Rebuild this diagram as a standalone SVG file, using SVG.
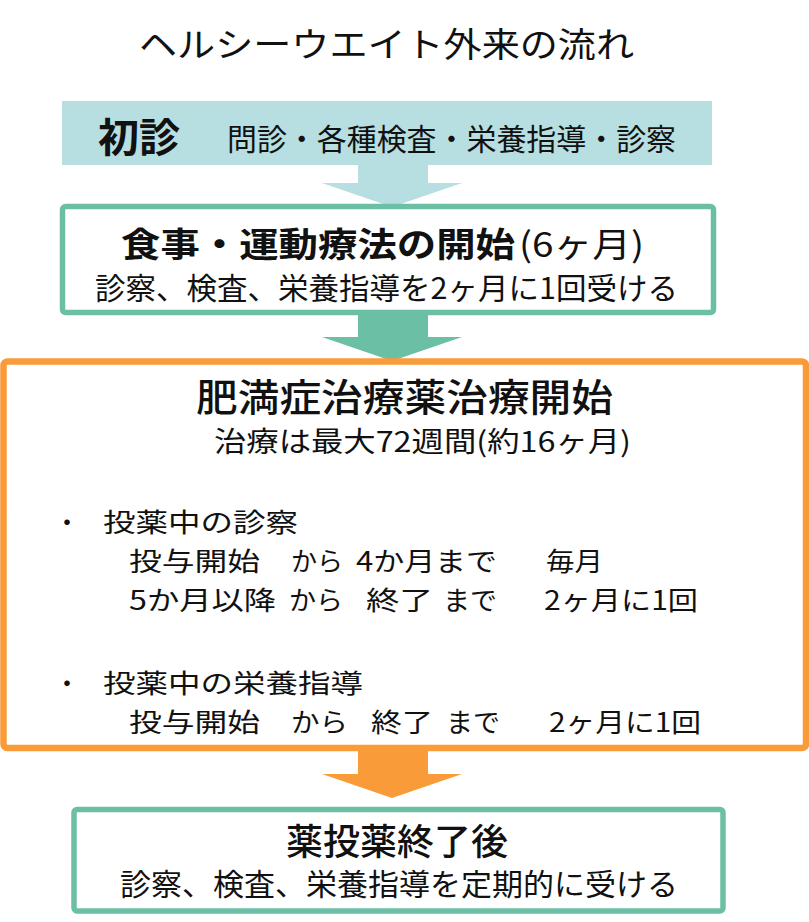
<svg xmlns="http://www.w3.org/2000/svg" width="809" height="922" viewBox="0 0 809 922">
<style>
text{font-family:"Noto Sans CJK JP","Noto Sans",sans-serif;fill:#111;}
.t30{font-size:30px;}
.t27{font-size:26.5px;}
.b{font-weight:bold;}
.m{font-weight:500;}
.box-g{fill:#fff;stroke:#6BBFA5;stroke-width:5.5;}
.box-o{fill:#fff;stroke:#F99B38;stroke-width:6.5;}
</style>
<rect width="809" height="922" fill="#fff"/>
<text id="title" x="139" y="57" font-size="34" textLength="495" lengthAdjust="spacingAndGlyphs">ヘルシーウエイト外来の流れ</text>
<g id="connectors">
<polygon points="358,164 428,164 428,183 462,183 392,207 322,183 358,183" fill="#B7DEE0"/>
<polygon points="358,313 428,313 428,337 462,337 392,361 322,337 358,337" fill="#6BBFA5"/>
<polygon points="358,749 428,749 428,774 462,774 392,798 322,774 358,774" fill="#F99B38"/>
</g>
<g id="node-shoshin">
<rect x="62" y="101" width="650" height="64" fill="#B7DEE0"/>
<text x="98" y="152" font-size="40" class="b" textLength="82" lengthAdjust="spacingAndGlyphs">初診</text>
<text x="227" y="150" class="t30" textLength="449" lengthAdjust="spacingAndGlyphs">問診・各種検査・栄養指導・診察</text>
</g>
<g id="node-diet">
<rect x="62.5" y="206.5" width="651" height="106" rx="3" class="box-g"/>
<text x="121" y="257" font-size="34" class="b" textLength="394" lengthAdjust="spacingAndGlyphs">食事・運動療法の開始</text>
<text x="519" y="257" font-size="34" textLength="125" lengthAdjust="spacingAndGlyphs">(6ヶ月)</text>
<text x="95" y="299" class="t30" textLength="583" lengthAdjust="spacingAndGlyphs">診察、検査、栄養指導を2ヶ月に1回受ける</text>
</g>
<g id="node-drug">
<rect x="3.5" y="361.5" width="802.5" height="386.5" rx="4" class="box-o"/>
<text x="196" y="411" font-size="38" class="m" textLength="417" lengthAdjust="spacingAndGlyphs">肥満症治療薬治療開始</text>
<text x="214" y="452" font-size="28" textLength="417" lengthAdjust="spacingAndGlyphs">治療は最大72週間(約16ヶ月)</text>
<text x="67" y="532" class="t27" text-anchor="middle">・</text>
<text x="103" y="532" class="t27" textLength="195" lengthAdjust="spacingAndGlyphs">投薬中の診察</text>
<text x="129" y="571" class="t27" textLength="131" lengthAdjust="spacingAndGlyphs">投与開始</text>
<text x="291" y="571" class="t27" textLength="52" lengthAdjust="spacingAndGlyphs">から</text>
<text x="356" y="571" class="t27" textLength="141" lengthAdjust="spacingAndGlyphs">4か月まで</text>
<text x="546" y="571" class="t27" textLength="57" lengthAdjust="spacingAndGlyphs">毎月</text>
<text x="129" y="610" class="t27" textLength="147" lengthAdjust="spacingAndGlyphs">5か月以降</text>
<text x="289" y="610" class="t27" textLength="54" lengthAdjust="spacingAndGlyphs">から</text>
<text x="366" y="610" class="t27" textLength="67" lengthAdjust="spacingAndGlyphs">終了</text>
<text x="443" y="610" class="t27" textLength="54" lengthAdjust="spacingAndGlyphs">まで</text>
<text x="544" y="610" class="t27" textLength="154" lengthAdjust="spacingAndGlyphs">2ヶ月に1回</text>
<text x="67" y="693" class="t27" text-anchor="middle">・</text>
<text x="103" y="693" class="t27" textLength="260" lengthAdjust="spacingAndGlyphs">投薬中の栄養指導</text>
<text x="129" y="732" class="t27" textLength="131" lengthAdjust="spacingAndGlyphs">投与開始</text>
<text x="291" y="732" class="t27" textLength="57" lengthAdjust="spacingAndGlyphs">から</text>
<text x="371" y="732" class="t27" textLength="62" lengthAdjust="spacingAndGlyphs">終了</text>
<text x="446" y="732" class="t27" textLength="54" lengthAdjust="spacingAndGlyphs">まで</text>
<text x="549" y="732" class="t27" textLength="152" lengthAdjust="spacingAndGlyphs">2ヶ月に1回</text>
</g>
<g id="node-after">
<rect x="74" y="809.5" width="649" height="101.5" rx="3" class="box-g"/>
<text x="286" y="855" font-size="36" class="m" textLength="222" lengthAdjust="spacingAndGlyphs">薬投薬終了後</text>
<text x="120" y="895" class="t30" textLength="558" lengthAdjust="spacingAndGlyphs">診察、検査、栄養指導を定期的に受ける</text>
</g>
</svg>
